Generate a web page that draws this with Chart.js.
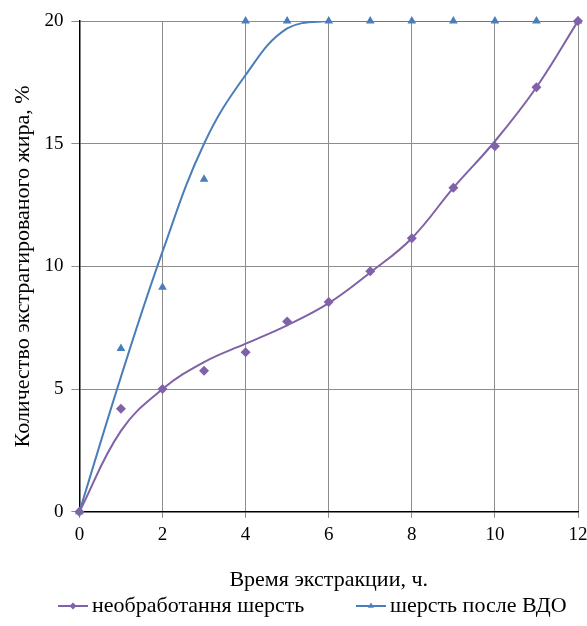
<!DOCTYPE html>
<html>
<head>
<meta charset="utf-8">
<script src="https://cdn.jsdelivr.net/npm/chart.js@4"></script>
<style>
  html, body { margin: 0; padding: 0; background: #fff; }
  #wrap { width: 587px; height: 626px; }
</style>
</head>
<body>
<div id="wrap"><canvas id="fatChart"></canvas></div>
<script>
// время экстракции, ч.
var hours = [0, 1, 2, 3, 4, 5, 6, 7, 8, 9, 10, 11, 12];

// необработанная шерсть: точки и линия тренда
var rawWool = [0, 4.2, 5.0, 5.75, 6.5, 7.75, 8.55, 9.8, 11.15, 13.2, 14.9, 17.3, 20];
var rawTrend = [0, 3.3, 5.0, 6.1, 6.85, 7.6, 8.5, 9.75, 11.15, 13.2, 15.1, 17.3, 20];

// шерсть после ВДО: точки и линия тренда
var vdoWool = [0, 6.65, 9.15, 13.55, 20, 20, 20, 20, 20, 20, 20, 20, 20];
var vdoTrend = [0, 5.5, 10.6, 15.0, 17.8, 19.7, 20, 20, 20, 20, 20, 20, 20];

var xTicks = [0, 2, 4, 6, 8, 10, 12];
var yTicks = [0, 5, 10, 15, 20];

var purple = '#7f62a8';
var blue = '#4a7ebb';

function toPoints(ys) {
  return hours.map(function (h, i) { return { x: h, y: ys[i] }; });
}

var serif = "'Liberation Serif', 'Times New Roman', serif";
Chart.defaults.font.family = serif;
Chart.defaults.color = '#000';

// легенда в стиле Excel: линия с маркером
var excelLegend = {
  id: 'excelLegend',
  afterDraw: function (chart) {
    var c = chart.ctx;
    var items = chart.data.datasets.slice(0, 2);
    var starts = [58, 356];
    var lineW = 30, textGap = 4;
    var y = 606;
    c.save();
    c.font = '22px ' + serif;
    items.forEach(function (ds, i) {
      var x = starts[i];
      c.strokeStyle = ds.borderColor;
      c.lineWidth = 2;
      c.beginPath();
      c.moveTo(x, y);
      c.lineTo(x + lineW, y);
      c.stroke();
      c.fillStyle = ds.backgroundColor;
      c.strokeStyle = ds.backgroundColor;
      Chart.helpers.drawPoint(c, { pointStyle: ds.pointStyle, radius: 3.5, rotation: 0, borderWidth: 0 }, x + lineW / 2, y);
      c.fillStyle = '#000';
      c.textAlign = 'left';
      c.textBaseline = 'middle';
      c.fillText(ds.label, x + lineW + textGap, y);
    });
    c.restore();
  }
};

var ctx = document.getElementById('fatChart').getContext('2d');
var fatChart = new Chart(ctx, {
  type: 'scatter',
  data: {
    datasets: [
      {
        label: 'необработання шерсть',
        data: toPoints(rawWool),
        pointStyle: 'rectRot',
        pointRadius: 5,
        backgroundColor: purple,
        borderColor: purple,
        borderWidth: 0,
        clip: false,
        order: 1
      },
      {
        label: 'шерсть после ВДО',
        data: toPoints(vdoWool),
        pointStyle: 'triangle',
        pointRadius: 5,
        backgroundColor: blue,
        borderColor: blue,
        borderWidth: 0,
        clip: false,
        order: 1
      },
      {
        label: 'trend raw',
        data: toPoints(rawTrend),
        showLine: true,
        pointRadius: 0,
        borderColor: purple,
        borderWidth: 2,
        tension: 0.4,
        order: 2
      },
      {
        label: 'trend vdo',
        data: toPoints(vdoTrend),
        showLine: true,
        pointRadius: 0,
        borderColor: blue,
        borderWidth: 2,
        tension: 0.4,
        order: 2
      }
    ]
  },
  options: {
    responsive: true,
    maintainAspectRatio: false,
    animation: false,
    layout: { autoPadding: false, padding: { left: 4, right: 9, top: 21, bottom: 33 } },
    plugins: {
      tooltip: { enabled: false },
      legend: { display: false }
    },
    scales: {
      x: {
        type: 'linear',
        min: 0,
        max: 12,
        afterBuildTicks: function (axis) {
          axis.ticks = xTicks.map(function (v) { return { value: v }; });
        },
        afterFit: function (axis) {
          // подпись "12" может выходить к краю, как в оригинале
          axis.paddingRight = 0;
        },
        grid: { color: '#8c8c8c', lineWidth: 1, tickLength: 6 },
        border: { color: '#000', width: 1.5 },
        ticks: { font: { size: 19 }, padding: 6 },
        title: {
          display: true,
          text: 'Время экстракции, ч.',
          font: { size: 22 },
          padding: { top: 14, bottom: 0 }
        }
      },
      y: {
        min: 0,
        max: 20,
        afterBuildTicks: function (axis) {
          axis.ticks = yTicks.map(function (v) { return { value: v }; });
        },
        grid: { color: '#8c8c8c', lineWidth: 1, tickLength: 8 },
        border: { color: '#000', width: 1.5 },
        ticks: { font: { size: 19 }, padding: 8 },
        title: {
          display: true,
          text: 'Количество экстрагированого жира, %',
          font: { size: 22 },
          padding: { top: 6, bottom: 0 }
        }
      }
    }
  },
  plugins: [excelLegend]
});
</script>
</body>
</html>
